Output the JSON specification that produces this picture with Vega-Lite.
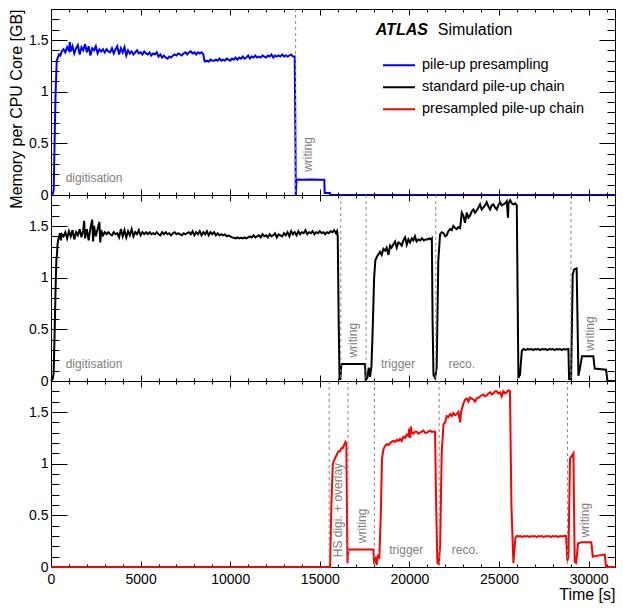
{
  "$schema": "https://vega.github.io/schema/vega-lite/v6.json",
  "padding": {"left": 8, "top": 2, "right": 0, "bottom": 0},
  "config": {
    "view": {"stroke": null},
    "font": "Liberation Sans",
    "axis": {"labelFont": "Liberation Sans", "titleFont": "Liberation Sans", "labelFontSize": 14, "labelColor": "black", "domainColor": "black", "domainWidth": 1, "tickColor": "black", "tickWidth": 1, "grid": false, "labelFlush": false, "labelOverlap": false, "labelBound": false, "titleColor": "black"},
    "text": {"font": "Liberation Sans"}
  },
  "spacing": 0,
  "bounds": "flush",
  "resolve": {"scale": {"color": "independent"}, "legend": {"color": "independent"}},
  "datasets": {
    "blue": [{"t":0,"v":0},{"t":100,"v":0.01},{"t":150,"v":0.05},{"t":200,"v":0.5},{"t":250,"v":0.95},{"t":320,"v":1.30},{"t":380,"v":1.33},{"t":450,"v":1.36},{"t":520,"v":1.35},{"t":600,"v":1.39},{"t":700,"v":1.41},{"t":800,"v":1.38},{"t":900,"v":1.43},{"t":1000,"v":1.40},{"t":1050,"v":1.48},{"t":1100,"v":1.39},{"t":1200,"v":1.44},{"t":1300,"v":1.37},{"t":1400,"v":1.42},{"t":1500,"v":1.45},{"t":1600,"v":1.36},{"t":1700,"v":1.43},{"t":1800,"v":1.40},{"t":1900,"v":1.46},{"t":2000,"v":1.38},{"t":2100,"v":1.44},{"t":2200,"v":1.35},{"t":2300,"v":1.42},{"t":2400,"v":1.40},{"t":2500,"v":1.44},{"t":2600,"v":1.37},{"t":2700,"v":1.41},{"t":2800,"v":1.39},{"t":2900,"v":1.41},{"t":3000,"v":1.38},{"t":3100,"v":1.41},{"t":3200,"v":1.39},{"t":3300,"v":1.38},{"t":3400,"v":1.42},{"t":3500,"v":1.37},{"t":3600,"v":1.41},{"t":3700,"v":1.44},{"t":3800,"v":1.36},{"t":3900,"v":1.42},{"t":4000,"v":1.38},{"t":4100,"v":1.43},{"t":4200,"v":1.35},{"t":4300,"v":1.40},{"t":4400,"v":1.37},{"t":4500,"v":1.39},{"t":4600,"v":1.36},{"t":4700,"v":1.38},{"t":4800,"v":1.40},{"t":4900,"v":1.37},{"t":5000,"v":1.38},{"t":5100,"v":1.36},{"t":5200,"v":1.39},{"t":5300,"v":1.37},{"t":5400,"v":1.36},{"t":5500,"v":1.38},{"t":5600,"v":1.35},{"t":5700,"v":1.37},{"t":5800,"v":1.36},{"t":5900,"v":1.38},{"t":6000,"v":1.34},{"t":6100,"v":1.36},{"t":6200,"v":1.33},{"t":6300,"v":1.35},{"t":6400,"v":1.33},{"t":6500,"v":1.32},{"t":6600,"v":1.34},{"t":6700,"v":1.33},{"t":6800,"v":1.35},{"t":6900,"v":1.36},{"t":7000,"v":1.35},{"t":7100,"v":1.37},{"t":7200,"v":1.36},{"t":7300,"v":1.35},{"t":7400,"v":1.37},{"t":7500,"v":1.38},{"t":7600,"v":1.36},{"t":7700,"v":1.38},{"t":7800,"v":1.39},{"t":7900,"v":1.37},{"t":8000,"v":1.38},{"t":8100,"v":1.36},{"t":8200,"v":1.38},{"t":8300,"v":1.37},{"t":8400,"v":1.38},{"t":8500,"v":1.36},{"t":8560,"v":1.30},{"t":8600,"v":1.29},{"t":8700,"v":1.30},{"t":8800,"v":1.29},{"t":8900,"v":1.31},{"t":9000,"v":1.30},{"t":9100,"v":1.30},{"t":9200,"v":1.31},{"t":9300,"v":1.30},{"t":9400,"v":1.32},{"t":9500,"v":1.30},{"t":9600,"v":1.31},{"t":9700,"v":1.30},{"t":9800,"v":1.32},{"t":9900,"v":1.31},{"t":10000,"v":1.30},{"t":10100,"v":1.32},{"t":10200,"v":1.31},{"t":10300,"v":1.33},{"t":10400,"v":1.31},{"t":10500,"v":1.33},{"t":10600,"v":1.32},{"t":10700,"v":1.34},{"t":10800,"v":1.32},{"t":10900,"v":1.33},{"t":11000,"v":1.35},{"t":11100,"v":1.32},{"t":11200,"v":1.34},{"t":11300,"v":1.33},{"t":11400,"v":1.35},{"t":11500,"v":1.33},{"t":11600,"v":1.34},{"t":11700,"v":1.33},{"t":11800,"v":1.35},{"t":11900,"v":1.34},{"t":12000,"v":1.33},{"t":12100,"v":1.35},{"t":12200,"v":1.34},{"t":12300,"v":1.36},{"t":12400,"v":1.33},{"t":12500,"v":1.35},{"t":12600,"v":1.34},{"t":12700,"v":1.35},{"t":12800,"v":1.34},{"t":12900,"v":1.36},{"t":13000,"v":1.34},{"t":13100,"v":1.35},{"t":13200,"v":1.34},{"t":13300,"v":1.35},{"t":13400,"v":1.36},{"t":13500,"v":1.34},{"t":13600,"v":1.34},{"t":13640,"v":0.5},{"t":13660,"v":0.0},{"t":13700,"v":0.146},{"t":13800,"v":0.15},{"t":14000,"v":0.148},{"t":14500,"v":0.15},{"t":15000,"v":0.148},{"t":15250,"v":0.148},{"t":15270,"v":0.02},{"t":15560,"v":0.02},{"t":15580,"v":0},{"t":31470,"v":0}],
    "black": [{"t":0,"v":0},{"t":100,"v":0.02},{"t":150,"v":0.08},{"t":200,"v":0.45},{"t":250,"v":0.85},{"t":300,"v":1.18},{"t":330,"v":1.22},{"t":370,"v":1.33},{"t":420,"v":1.38},{"t":500,"v":1.43},{"t":550,"v":1.36},{"t":600,"v":1.42},{"t":700,"v":1.40},{"t":800,"v":1.44},{"t":900,"v":1.38},{"t":1000,"v":1.45},{"t":1100,"v":1.40},{"t":1200,"v":1.46},{"t":1300,"v":1.37},{"t":1400,"v":1.44},{"t":1500,"v":1.41},{"t":1600,"v":1.47},{"t":1700,"v":1.39},{"t":1800,"v":1.46},{"t":1850,"v":1.55},{"t":1900,"v":1.38},{"t":2000,"v":1.47},{"t":2100,"v":1.36},{"t":2200,"v":1.48},{"t":2300,"v":1.56},{"t":2350,"v":1.35},{"t":2400,"v":1.50},{"t":2500,"v":1.40},{"t":2600,"v":1.47},{"t":2700,"v":1.54},{"t":2750,"v":1.34},{"t":2800,"v":1.46},{"t":2900,"v":1.41},{"t":3000,"v":1.44},{"t":3100,"v":1.42},{"t":3200,"v":1.44},{"t":3300,"v":1.42},{"t":3400,"v":1.41},{"t":3500,"v":1.44},{"t":3600,"v":1.42},{"t":3700,"v":1.43},{"t":3800,"v":1.39},{"t":3900,"v":1.47},{"t":4000,"v":1.40},{"t":4100,"v":1.46},{"t":4200,"v":1.39},{"t":4300,"v":1.45},{"t":4400,"v":1.41},{"t":4500,"v":1.47},{"t":4600,"v":1.40},{"t":4700,"v":1.44},{"t":4800,"v":1.42},{"t":4900,"v":1.46},{"t":5000,"v":1.41},{"t":5100,"v":1.44},{"t":5200,"v":1.42},{"t":5300,"v":1.44},{"t":5400,"v":1.42},{"t":5500,"v":1.44},{"t":5600,"v":1.42},{"t":5700,"v":1.43},{"t":5800,"v":1.42},{"t":5900,"v":1.44},{"t":6000,"v":1.42},{"t":6100,"v":1.41},{"t":6200,"v":1.44},{"t":6300,"v":1.42},{"t":6400,"v":1.44},{"t":6500,"v":1.42},{"t":6600,"v":1.43},{"t":6700,"v":1.41},{"t":6800,"v":1.43},{"t":6900,"v":1.44},{"t":7000,"v":1.42},{"t":7100,"v":1.43},{"t":7200,"v":1.42},{"t":7300,"v":1.41},{"t":7400,"v":1.43},{"t":7500,"v":1.42},{"t":7600,"v":1.43},{"t":7700,"v":1.44},{"t":7800,"v":1.42},{"t":7900,"v":1.45},{"t":8000,"v":1.41},{"t":8100,"v":1.44},{"t":8200,"v":1.42},{"t":8300,"v":1.45},{"t":8400,"v":1.41},{"t":8500,"v":1.44},{"t":8600,"v":1.42},{"t":8700,"v":1.45},{"t":8800,"v":1.41},{"t":8900,"v":1.44},{"t":9000,"v":1.42},{"t":9100,"v":1.44},{"t":9200,"v":1.41},{"t":9300,"v":1.43},{"t":9400,"v":1.41},{"t":9500,"v":1.42},{"t":9600,"v":1.41},{"t":9700,"v":1.42},{"t":9800,"v":1.40},{"t":9900,"v":1.41},{"t":10000,"v":1.40},{"t":10100,"v":1.39},{"t":10200,"v":1.385},{"t":10300,"v":1.38},{"t":10400,"v":1.39},{"t":10500,"v":1.38},{"t":10600,"v":1.385},{"t":10700,"v":1.38},{"t":10800,"v":1.39},{"t":10900,"v":1.38},{"t":11000,"v":1.39},{"t":11100,"v":1.40},{"t":11200,"v":1.39},{"t":11300,"v":1.41},{"t":11400,"v":1.39},{"t":11500,"v":1.40},{"t":11600,"v":1.41},{"t":11700,"v":1.39},{"t":11800,"v":1.42},{"t":11900,"v":1.40},{"t":12000,"v":1.41},{"t":12100,"v":1.39},{"t":12200,"v":1.42},{"t":12300,"v":1.40},{"t":12400,"v":1.41},{"t":12500,"v":1.43},{"t":12600,"v":1.39},{"t":12700,"v":1.42},{"t":12800,"v":1.41},{"t":12900,"v":1.40},{"t":13000,"v":1.43},{"t":13100,"v":1.41},{"t":13200,"v":1.44},{"t":13300,"v":1.40},{"t":13400,"v":1.45},{"t":13500,"v":1.42},{"t":13600,"v":1.44},{"t":13700,"v":1.41},{"t":13800,"v":1.45},{"t":13900,"v":1.42},{"t":14000,"v":1.44},{"t":14100,"v":1.43},{"t":14200,"v":1.46},{"t":14300,"v":1.42},{"t":14400,"v":1.44},{"t":14500,"v":1.43},{"t":14600,"v":1.45},{"t":14700,"v":1.42},{"t":14800,"v":1.44},{"t":14900,"v":1.43},{"t":15000,"v":1.45},{"t":15100,"v":1.43},{"t":15200,"v":1.44},{"t":15300,"v":1.42},{"t":15400,"v":1.44},{"t":15500,"v":1.43},{"t":15600,"v":1.45},{"t":15700,"v":1.44},{"t":15800,"v":1.46},{"t":15900,"v":1.43},{"t":15960,"v":1.45},{"t":16000,"v":1.40},{"t":16050,"v":0.6},{"t":16100,"v":0.02},{"t":16150,"v":0.02},{"t":16200,"v":0.165},{"t":16800,"v":0.165},{"t":17520,"v":0.165},{"t":17560,"v":0.01},{"t":17650,"v":0.03},{"t":17730,"v":0.13},{"t":17800,"v":0.04},{"t":17880,"v":0.14},{"t":17950,"v":0.5},{"t":18030,"v":1.0},{"t":18100,"v":1.17},{"t":18210,"v":1.21},{"t":18360,"v":1.25},{"t":18450,"v":1.22},{"t":18550,"v":1.28},{"t":18650,"v":1.26},{"t":18730,"v":1.29},{"t":18830,"v":1.22},{"t":18920,"v":1.31},{"t":19000,"v":1.29},{"t":19100,"v":1.32},{"t":19200,"v":1.35},{"t":19290,"v":1.29},{"t":19380,"v":1.34},{"t":19480,"v":1.33},{"t":19570,"v":1.31},{"t":19660,"v":1.36},{"t":19760,"v":1.39},{"t":19850,"v":1.32},{"t":19940,"v":1.37},{"t":20030,"v":1.34},{"t":20130,"v":1.38},{"t":20220,"v":1.36},{"t":20310,"v":1.40},{"t":20400,"v":1.35},{"t":20500,"v":1.37},{"t":20600,"v":1.36},{"t":20700,"v":1.38},{"t":20800,"v":1.36},{"t":20900,"v":1.37},{"t":21000,"v":1.37},{"t":21100,"v":1.38},{"t":21200,"v":1.37},{"t":21250,"v":1.38},{"t":21290,"v":0.6},{"t":21340,"v":0.06},{"t":21430,"v":0.03},{"t":21520,"v":0.13},{"t":21610,"v":1.16},{"t":21710,"v":1.42},{"t":21800,"v":1.44},{"t":21900,"v":1.43},{"t":22000,"v":1.40},{"t":22080,"v":1.41},{"t":22170,"v":1.45},{"t":22270,"v":1.47},{"t":22360,"v":1.46},{"t":22450,"v":1.50},{"t":22550,"v":1.48},{"t":22640,"v":1.47},{"t":22730,"v":1.49},{"t":22830,"v":1.48},{"t":22920,"v":1.63},{"t":23010,"v":1.60},{"t":23100,"v":1.53},{"t":23200,"v":1.63},{"t":23290,"v":1.58},{"t":23380,"v":1.60},{"t":23470,"v":1.64},{"t":23570,"v":1.66},{"t":23660,"v":1.63},{"t":23750,"v":1.65},{"t":23850,"v":1.68},{"t":23940,"v":1.71},{"t":24030,"v":1.66},{"t":24130,"v":1.68},{"t":24220,"v":1.70},{"t":24310,"v":1.73},{"t":24400,"v":1.69},{"t":24500,"v":1.66},{"t":24590,"v":1.70},{"t":24680,"v":1.71},{"t":24780,"v":1.68},{"t":24870,"v":1.66},{"t":24960,"v":1.70},{"t":25060,"v":1.73},{"t":25150,"v":1.70},{"t":25240,"v":1.71},{"t":25340,"v":1.72},{"t":25430,"v":1.74},{"t":25500,"v":1.58},{"t":25530,"v":1.72},{"t":25620,"v":1.75},{"t":25710,"v":1.72},{"t":25800,"v":1.71},{"t":25900,"v":1.72},{"t":25990,"v":1.70},{"t":26080,"v":0.03},{"t":26170,"v":0.06},{"t":26270,"v":0.29},{"t":26360,"v":0.31},{"t":26500,"v":0.30},{"t":26600,"v":0.31},{"t":26700,"v":0.305},{"t":26800,"v":0.31},{"t":26900,"v":0.30},{"t":27000,"v":0.31},{"t":27100,"v":0.305},{"t":27200,"v":0.31},{"t":27300,"v":0.30},{"t":27400,"v":0.31},{"t":27500,"v":0.305},{"t":27600,"v":0.31},{"t":27700,"v":0.30},{"t":27800,"v":0.31},{"t":27900,"v":0.305},{"t":28000,"v":0.31},{"t":28100,"v":0.30},{"t":28200,"v":0.31},{"t":28300,"v":0.305},{"t":28400,"v":0.31},{"t":28500,"v":0.30},{"t":28600,"v":0.31},{"t":28700,"v":0.305},{"t":28870,"v":0.31},{"t":28910,"v":0.02},{"t":29020,"v":0.02},{"t":29110,"v":1.03},{"t":29190,"v":1.08},{"t":29330,"v":1.09},{"t":29430,"v":0.05},{"t":29520,"v":0.13},{"t":29630,"v":0.24},{"t":30260,"v":0.24},{"t":30340,"v":0.12},{"t":30970,"v":0.11},{"t":31050,"v":0},{"t":31470,"v":0}],
    "red": [{"t":0,"v":0},{"t":15570,"v":0},{"t":15645,"v":0.6},{"t":15720,"v":0.99},{"t":15790,"v":1.03},{"t":15900,"v":1.07},{"t":15980,"v":1.10},{"t":16050,"v":1.12},{"t":16130,"v":1.12},{"t":16200,"v":1.15},{"t":16280,"v":1.15},{"t":16350,"v":1.18},{"t":16430,"v":1.21},{"t":16480,"v":1.19},{"t":16540,"v":0.04},{"t":16590,"v":0.17},{"t":17000,"v":0.17},{"t":17500,"v":0.17},{"t":17990,"v":0.17},{"t":18030,"v":0.03},{"t":18100,"v":0.10},{"t":18175,"v":0.02},{"t":18250,"v":0.12},{"t":18320,"v":0.08},{"t":18400,"v":0.5},{"t":18470,"v":1.05},{"t":18550,"v":1.14},{"t":18640,"v":1.17},{"t":18730,"v":1.19},{"t":18820,"v":1.18},{"t":18920,"v":1.20},{"t":19010,"v":1.21},{"t":19100,"v":1.22},{"t":19200,"v":1.21},{"t":19290,"v":1.23},{"t":19380,"v":1.22},{"t":19480,"v":1.24},{"t":19570,"v":1.22},{"t":19660,"v":1.26},{"t":19760,"v":1.25},{"t":19850,"v":1.28},{"t":19940,"v":1.27},{"t":19990,"v":1.34},{"t":20040,"v":1.25},{"t":20080,"v":1.36},{"t":20130,"v":1.30},{"t":20220,"v":1.29},{"t":20310,"v":1.31},{"t":20410,"v":1.31},{"t":20500,"v":1.29},{"t":20590,"v":1.30},{"t":20690,"v":1.31},{"t":20780,"v":1.32},{"t":20870,"v":1.30},{"t":20970,"v":1.30},{"t":21060,"v":1.31},{"t":21150,"v":1.32},{"t":21240,"v":1.31},{"t":21340,"v":1.31},{"t":21430,"v":1.31},{"t":21490,"v":0.6},{"t":21560,"v":0.04},{"t":21640,"v":0.03},{"t":21710,"v":0.2},{"t":21800,"v":1.1},{"t":21900,"v":1.38},{"t":21990,"v":1.40},{"t":22080,"v":1.46},{"t":22170,"v":1.45},{"t":22270,"v":1.48},{"t":22360,"v":1.46},{"t":22450,"v":1.49},{"t":22550,"v":1.47},{"t":22640,"v":1.48},{"t":22730,"v":1.50},{"t":22830,"v":1.40},{"t":22880,"v":1.50},{"t":23010,"v":1.58},{"t":23100,"v":1.62},{"t":23200,"v":1.63},{"t":23290,"v":1.60},{"t":23380,"v":1.64},{"t":23470,"v":1.63},{"t":23570,"v":1.62},{"t":23660,"v":1.60},{"t":23750,"v":1.63},{"t":23850,"v":1.64},{"t":23940,"v":1.65},{"t":24030,"v":1.66},{"t":24130,"v":1.67},{"t":24220,"v":1.65},{"t":24310,"v":1.66},{"t":24400,"v":1.68},{"t":24500,"v":1.69},{"t":24590,"v":1.67},{"t":24680,"v":1.68},{"t":24780,"v":1.70},{"t":24870,"v":1.70},{"t":24960,"v":1.68},{"t":25060,"v":1.69},{"t":25150,"v":1.65},{"t":25240,"v":1.70},{"t":25340,"v":1.68},{"t":25430,"v":1.69},{"t":25520,"v":1.71},{"t":25610,"v":1.70},{"t":25690,"v":0.6},{"t":25800,"v":0.04},{"t":25910,"v":0.28},{"t":25990,"v":0.30},{"t":26100,"v":0.295},{"t":26200,"v":0.30},{"t":26300,"v":0.29},{"t":26400,"v":0.30},{"t":26500,"v":0.295},{"t":26600,"v":0.30},{"t":26700,"v":0.29},{"t":26800,"v":0.30},{"t":26900,"v":0.295},{"t":27000,"v":0.30},{"t":27100,"v":0.29},{"t":27200,"v":0.30},{"t":27300,"v":0.295},{"t":27400,"v":0.30},{"t":27500,"v":0.29},{"t":27600,"v":0.30},{"t":27700,"v":0.295},{"t":27800,"v":0.30},{"t":27900,"v":0.29},{"t":28000,"v":0.30},{"t":28100,"v":0.295},{"t":28200,"v":0.30},{"t":28300,"v":0.29},{"t":28400,"v":0.30},{"t":28500,"v":0.295},{"t":28600,"v":0.30},{"t":28740,"v":0.30},{"t":28810,"v":0.06},{"t":28870,"v":0.10},{"t":28960,"v":1.05},{"t":29080,"v":1.08},{"t":29150,"v":1.10},{"t":29220,"v":0.05},{"t":29300,"v":0.04},{"t":29410,"v":0.23},{"t":29600,"v":0.24},{"t":30150,"v":0.24},{"t":30230,"v":0.10},{"t":30500,"v":0.11},{"t":30900,"v":0.12},{"t":30970,"v":0},{"t":31470,"v":0}],
    "rules": [{"panel":1,"t":13650},{"panel":2,"t":16170},{"panel":2,"t":17580},{"panel":2,"t":21470},{"panel":2,"t":29010},{"panel":3,"t":15520},{"panel":3,"t":16570},{"panel":3,"t":18045},{"panel":3,"t":21660},{"panel":3,"t":28815}],
    "labels": [{"panel":1,"t":820,"v":0.13,"text":"digitisation"},{"panel":2,"t":820,"v":0.13,"text":"digitisation"},{"panel":2,"t":18415,"v":0.127,"text":"trigger"},{"panel":2,"t":22176,"v":0.125,"text":"reco."},{"panel":3,"t":18873,"v":0.128,"text":"trigger"},{"panel":3,"t":22360,"v":0.128,"text":"reco."}],
    "vlabels": [{"panel":1,"t":14550,"v":0.224,"text":"writing"},{"panel":2,"t":17076,"v":0.227,"text":"writing"},{"panel":2,"t":30280,"v":0.29,"text":"writing"},{"panel":3,"t":16239,"v":0.094,"text":"HS digi. + overlay"},{"panel":3,"t":17600,"v":0.23,"text":"writing"},{"panel":3,"t":30005,"v":0.285,"text":"writing"}]
  },
  "vconcat": [
    {
      "width": 564, "height": 186,
      "resolve": {"axis": {"x": "independent", "y": "independent"}},
      "layer": [
        {
          "data": {"name": "blue"},
          "mark": {"type": "line", "strokeWidth": 2},
          "encoding": {
            "x": {"field": "t", "type": "quantitative", "scale": {"domain": [0, 31470], "nice": false, "zero": false},
                  "axis": {"orient": "bottom", "values": [0,1000,2000,3000,4000,5000,6000,7000,8000,9000,10000,11000,12000,13000,14000,15000,16000,17000,18000,19000,20000,21000,22000,23000,24000,25000,26000,27000,28000,29000,30000,31000], "labels": false, "title": null, "tickSize": {"condition": {"test": "datum.value % 5000 == 0", "value": -6}, "value": -3}}},
            "y": {"field": "v", "type": "quantitative", "scale": {"domain": [0, 1.8], "nice": false},
                  "axis": {"orient": "left", "values": [0,0.1,0.2,0.3,0.4,0.5,0.6,0.7,0.8,0.9,1,1.1,1.2,1.3,1.4,1.5,1.6,1.7,1.8], "labelExpr": "abs(datum.value*2 - round(datum.value*2)) < 0.001 ? format(datum.value, '~g') : ''", "tickSize": {"condition": {"test": "abs(datum.value*2 - round(datum.value*2)) < 0.001", "value": -16}, "value": -8}, "labelPadding": 19, "title": "Memory per CPU Core [GB]", "titleX": -30, "titleY": 0, "titleAngle": 270, "titleAlign": "right", "titleBaseline": "alphabetic", "titleFontSize": 16, "titleFontWeight": "normal"}},
            "color": {"datum": "pile-up presampling", "type": "nominal",
                      "scale": {"domain": ["pile-up presampling", "standard pile-up chain", "presampled pile-up chain"], "range": ["#0000ff", "#000000", "#ff0000"]},
                      "legend": {"orient": "none", "legendX": 331, "legendY": 45.7, "title": null, "symbolType": "stroke", "symbolSize": 1024, "symbolStrokeWidth": 2, "labelFontSize": 14.5, "labelFont": "Liberation Sans", "labelColor": "black", "labelOffset": 6, "labelLimit": 400, "clipHeight": 21.3, "rowPadding": 0, "padding": 0}}
          }
        },
        {
          "data": {"name": "rules"},
          "transform": [{"filter": "datum.panel == 1"}],
          "mark": {"type": "rule", "color": "#888888", "strokeDash": [3, 3], "strokeWidth": 1},
          "encoding": {"x": {"field": "t", "type": "quantitative", "scale": {"domain": [0, 31470], "nice": false, "zero": false}, "axis": null}}
        },
        {
          "data": {"name": "labels"},
          "transform": [{"filter": "datum.panel == 1"}],
          "mark": {"type": "text", "align": "left", "baseline": "alphabetic", "fontSize": 12, "color": "#808080"},
          "encoding": {
            "x": {"field": "t", "type": "quantitative", "scale": {"domain": [0, 31470], "nice": false, "zero": false},
                  "axis": {"orient": "top", "values": [0,1000,2000,3000,4000,5000,6000,7000,8000,9000,10000,11000,12000,13000,14000,15000,16000,17000,18000,19000,20000,21000,22000,23000,24000,25000,26000,27000,28000,29000,30000,31000], "labels": false, "title": null, "tickSize": {"condition": {"test": "datum.value % 5000 == 0", "value": -6}, "value": -3}}},
            "y": {"field": "v", "type": "quantitative", "scale": {"domain": [0, 1.8], "nice": false},
                  "axis": {"orient": "right", "values": [0,0.1,0.2,0.3,0.4,0.5,0.6,0.7,0.8,0.9,1,1.1,1.2,1.3,1.4,1.5,1.6,1.7,1.8], "labels": false, "title": null, "tickSize": {"condition": {"test": "abs(datum.value*2 - round(datum.value*2)) < 0.001", "value": -16}, "value": -8}}},
            "text": {"field": "text"}
          }
        },
        {
          "data": {"name": "vlabels"},
          "transform": [{"filter": "datum.panel == 1"}],
          "mark": {"type": "text", "align": "left", "baseline": "alphabetic", "angle": 270, "fontSize": 12, "color": "#808080"},
          "encoding": {
            "x": {"field": "t", "type": "quantitative", "scale": {"domain": [0, 31470], "nice": false, "zero": false}, "axis": null},
            "y": {"field": "v", "type": "quantitative", "scale": {"domain": [0, 1.8], "nice": false}, "axis": null},
            "text": {"field": "text"}
          }
        },
        {
          "data": {"values": [{"t": 18120, "v": 1.545, "text": "ATLAS"}]},
          "mark": {"type": "text", "align": "left", "baseline": "alphabetic", "fontSize": 16, "fontWeight": "bold", "fontStyle": "italic", "color": "black"},
          "encoding": {
            "x": {"field": "t", "type": "quantitative", "scale": {"domain": [0, 31470], "nice": false, "zero": false}, "axis": null},
            "y": {"field": "v", "type": "quantitative", "scale": {"domain": [0, 1.8], "nice": false}, "axis": null},
            "text": {"field": "text"}
          }
        },
        {
          "data": {"values": [{"t": 21580, "v": 1.545, "text": "Simulation"}]},
          "mark": {"type": "text", "align": "left", "baseline": "alphabetic", "fontSize": 16, "color": "black"},
          "encoding": {
            "x": {"field": "t", "type": "quantitative", "scale": {"domain": [0, 31470], "nice": false, "zero": false}, "axis": null},
            "y": {"field": "v", "type": "quantitative", "scale": {"domain": [0, 1.8], "nice": false}, "axis": null},
            "text": {"field": "text"}
          }
        }
      ]
    },
    {
      "width": 564, "height": 186,
      "resolve": {"axis": {"x": "independent", "y": "independent"}},
      "layer": [
        {
          "data": {"name": "black"},
          "mark": {"type": "line", "strokeWidth": 2, "color": "#000000"},
          "encoding": {
            "x": {"field": "t", "type": "quantitative", "scale": {"domain": [0, 31470], "nice": false, "zero": false},
                  "axis": {"orient": "bottom", "values": [0,1000,2000,3000,4000,5000,6000,7000,8000,9000,10000,11000,12000,13000,14000,15000,16000,17000,18000,19000,20000,21000,22000,23000,24000,25000,26000,27000,28000,29000,30000,31000], "labels": false, "title": null, "tickSize": {"condition": {"test": "datum.value % 5000 == 0", "value": -6}, "value": -3}}},
            "y": {"field": "v", "type": "quantitative", "scale": {"domain": [0, 1.8], "nice": false},
                  "axis": {"orient": "left", "values": [0,0.1,0.2,0.3,0.4,0.5,0.6,0.7,0.8,0.9,1,1.1,1.2,1.3,1.4,1.5,1.6,1.7,1.8], "labelExpr": "abs(datum.value*2 - round(datum.value*2)) < 0.001 ? format(datum.value, '~g') : ''", "tickSize": {"condition": {"test": "abs(datum.value*2 - round(datum.value*2)) < 0.001", "value": -16}, "value": -8}, "labelPadding": 19, "title": null}}
          }
        },
        {
          "data": {"name": "rules"},
          "transform": [{"filter": "datum.panel == 2"}],
          "mark": {"type": "rule", "color": "#888888", "strokeDash": [3, 3], "strokeWidth": 1},
          "encoding": {"x": {"field": "t", "type": "quantitative", "scale": {"domain": [0, 31470], "nice": false, "zero": false}, "axis": null}}
        },
        {
          "data": {"name": "labels"},
          "transform": [{"filter": "datum.panel == 2"}],
          "mark": {"type": "text", "align": "left", "baseline": "alphabetic", "fontSize": 12, "color": "#808080"},
          "encoding": {
            "x": {"field": "t", "type": "quantitative", "scale": {"domain": [0, 31470], "nice": false, "zero": false},
                  "axis": {"orient": "top", "values": [0,1000,2000,3000,4000,5000,6000,7000,8000,9000,10000,11000,12000,13000,14000,15000,16000,17000,18000,19000,20000,21000,22000,23000,24000,25000,26000,27000,28000,29000,30000,31000], "labels": false, "title": null, "tickSize": {"condition": {"test": "datum.value % 5000 == 0", "value": -6}, "value": -3}}},
            "y": {"field": "v", "type": "quantitative", "scale": {"domain": [0, 1.8], "nice": false},
                  "axis": {"orient": "right", "values": [0,0.1,0.2,0.3,0.4,0.5,0.6,0.7,0.8,0.9,1,1.1,1.2,1.3,1.4,1.5,1.6,1.7,1.8], "labels": false, "title": null, "tickSize": {"condition": {"test": "abs(datum.value*2 - round(datum.value*2)) < 0.001", "value": -16}, "value": -8}}},
            "text": {"field": "text"}
          }
        },
        {
          "data": {"name": "vlabels"},
          "transform": [{"filter": "datum.panel == 2"}],
          "mark": {"type": "text", "align": "left", "baseline": "alphabetic", "angle": 270, "fontSize": 12, "color": "#808080"},
          "encoding": {
            "x": {"field": "t", "type": "quantitative", "scale": {"domain": [0, 31470], "nice": false, "zero": false}, "axis": null},
            "y": {"field": "v", "type": "quantitative", "scale": {"domain": [0, 1.8], "nice": false}, "axis": null},
            "text": {"field": "text"}
          }
        }
      ]
    },
    {
      "width": 564, "height": 186,
      "resolve": {"axis": {"x": "independent", "y": "independent"}},
      "layer": [
        {
          "data": {"name": "red"},
          "mark": {"type": "line", "strokeWidth": 2, "color": "#ff0000"},
          "encoding": {
            "x": {"field": "t", "type": "quantitative", "scale": {"domain": [0, 31470], "nice": false, "zero": false},
                  "axis": {"orient": "bottom", "values": [0,1000,2000,3000,4000,5000,6000,7000,8000,9000,10000,11000,12000,13000,14000,15000,16000,17000,18000,19000,20000,21000,22000,23000,24000,25000,26000,27000,28000,29000,30000,31000], "labelExpr": "datum.value % 5000 == 0 ? format(datum.value, 'd') : ''", "labelPadding": 11, "tickSize": {"condition": {"test": "datum.value % 5000 == 0", "value": -6}, "value": -3}, "title": "Time [s]", "titleX": 564, "titleY": 32.5, "titleAlign": "right", "titleBaseline": "alphabetic", "titleFontSize": 16, "titleFontWeight": "normal"}},
            "y": {"field": "v", "type": "quantitative", "scale": {"domain": [0, 1.8], "nice": false},
                  "axis": {"orient": "left", "values": [0,0.1,0.2,0.3,0.4,0.5,0.6,0.7,0.8,0.9,1,1.1,1.2,1.3,1.4,1.5,1.6,1.7,1.8], "labelExpr": "abs(datum.value*2 - round(datum.value*2)) < 0.001 ? format(datum.value, '~g') : ''", "tickSize": {"condition": {"test": "abs(datum.value*2 - round(datum.value*2)) < 0.001", "value": -16}, "value": -8}, "labelPadding": 19, "title": null}}
          }
        },
        {
          "data": {"name": "rules"},
          "transform": [{"filter": "datum.panel == 3"}],
          "mark": {"type": "rule", "color": "#888888", "strokeDash": [3, 3], "strokeWidth": 1},
          "encoding": {"x": {"field": "t", "type": "quantitative", "scale": {"domain": [0, 31470], "nice": false, "zero": false}, "axis": null}}
        },
        {
          "data": {"name": "labels"},
          "transform": [{"filter": "datum.panel == 3"}],
          "mark": {"type": "text", "align": "left", "baseline": "alphabetic", "fontSize": 12, "color": "#808080"},
          "encoding": {
            "x": {"field": "t", "type": "quantitative", "scale": {"domain": [0, 31470], "nice": false, "zero": false},
                  "axis": {"orient": "top", "values": [0,1000,2000,3000,4000,5000,6000,7000,8000,9000,10000,11000,12000,13000,14000,15000,16000,17000,18000,19000,20000,21000,22000,23000,24000,25000,26000,27000,28000,29000,30000,31000], "labels": false, "title": null, "tickSize": {"condition": {"test": "datum.value % 5000 == 0", "value": -6}, "value": -3}}},
            "y": {"field": "v", "type": "quantitative", "scale": {"domain": [0, 1.8], "nice": false},
                  "axis": {"orient": "right", "values": [0,0.1,0.2,0.3,0.4,0.5,0.6,0.7,0.8,0.9,1,1.1,1.2,1.3,1.4,1.5,1.6,1.7,1.8], "labels": false, "title": null, "tickSize": {"condition": {"test": "abs(datum.value*2 - round(datum.value*2)) < 0.001", "value": -16}, "value": -8}}},
            "text": {"field": "text"}
          }
        },
        {
          "data": {"name": "vlabels"},
          "transform": [{"filter": "datum.panel == 3"}],
          "mark": {"type": "text", "align": "left", "baseline": "alphabetic", "angle": 270, "fontSize": 12, "color": "#808080"},
          "encoding": {
            "x": {"field": "t", "type": "quantitative", "scale": {"domain": [0, 31470], "nice": false, "zero": false}, "axis": null},
            "y": {"field": "v", "type": "quantitative", "scale": {"domain": [0, 1.8], "nice": false}, "axis": null},
            "text": {"field": "text"}
          }
        }
      ]
    }
  ]
}
